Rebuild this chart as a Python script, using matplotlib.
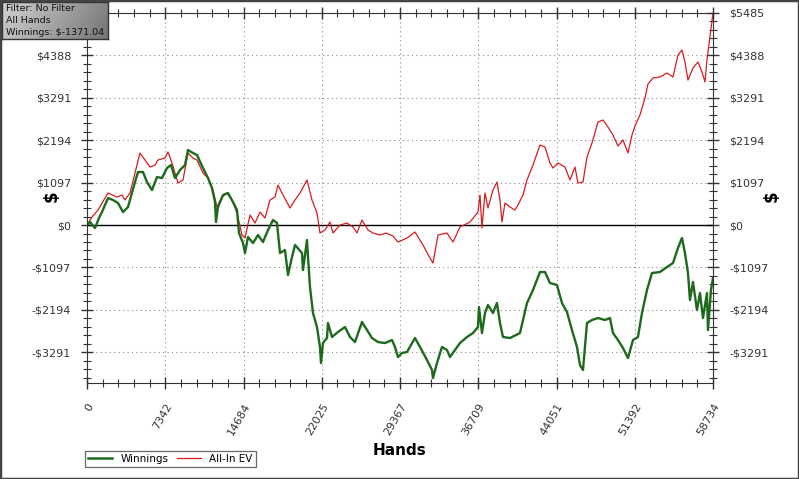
import matplotlib
matplotlib.use("Agg")
import matplotlib.pyplot as plt
import numpy as np
from matplotlib.lines import Line2D
from matplotlib.patches import Rectangle
from matplotlib.ticker import AutoMinorLocator, FixedLocator

# Winnings (dark green)
win_hands = [0, 281, 751, 1126, 1407, 1970, 2439, 2908, 3378, 3847, 4503, 4785, 5254, 5629,
             6098, 6567, 7037, 7506, 7881, 8256, 8725, 9194, 9476, 9945, 10320, 10883, 11352,
             11728, 12009, 12103, 12290, 12760, 13229, 13698, 14073, 14261, 14636, 14824, 15105,
             15574, 16043, 16512, 16981, 17451, 17826, 18107, 18576, 18858, 19233, 19515, 20171,
             20265, 20640, 20734, 20922, 21203, 21579, 21860, 21954, 22142, 22517, 22611, 22986,
             23549, 24206, 24675, 25144, 25801, 26270, 26739, 27302, 27958, 28615, 28897, 29178,
             29553, 30022, 30773, 31242, 31899, 32368, 32462, 32837, 33306, 33775, 34057, 34526,
             34995, 35652, 36215, 36684, 36777, 37059, 37340, 37622, 38091, 38466, 38748, 39029,
             39686, 40624, 41281, 41844, 42500, 42970, 43439, 44095, 44565, 45034, 45503, 45972,
             46253, 46535, 46910, 47379, 47942, 48599, 49068, 49349, 49818, 50288, 50757, 51226,
             51695, 52070, 52539, 53008, 53759, 54416, 54979, 55448, 55823, 56104, 56386, 56574,
             56855, 57230, 57512, 57793, 58168, 58262, 58543, 58734]
win_usd = [0, 78, -78, 181, 336, 698, 647, 569, 336, 466, 1112, 1371, 1371, 1112,
           905, 1242, 1216, 1475, 1552, 1216, 1423, 1552, 1940, 1863, 1811, 1475, 1216,
           957, 595, 78, 466, 776, 828, 595, 388, -207, -466, -724, -310,
           -466, -259, -440, -129, 129, 52, -724, -647, -1294, -828, -517, -724,
           -1164, -388, -828, -1604, -2277, -2639, -3156, -3570, -3053, -2923, -2535, -2897,
           -2768, -2639, -2897, -3027, -2509, -2716, -2923, -3027, -3053, -2975, -3156, -3415,
           -3311, -3285, -2923, -3156, -3492, -3751, -3958, -3570, -3156, -3234, -3415, -3234,
           -3053, -2897, -2794, -2639, -2121, -2794, -2277, -2070, -2277, -2018, -2535, -2897,
           -2923, -2794, -2018, -1682, -1216, -1216, -1500, -1552, -2018, -2251, -2716, -3156,
           -3622, -3751, -2535, -2458, -2406, -2458, -2406, -2794, -2975, -3182, -3441, -2975,
           -2897, -2277, -1682, -1242, -1216, -1087, -983, -595, -336, -724, -1242, -1940,
           -1475, -2199, -1759, -2406, -1759, -2716, -1682, -1371]

# All-In EV (red)
ev_hands = [0, 469, 1032, 1970, 2815, 3284, 3565, 4034, 4503, 4972, 5442, 5911, 6380, 6661,
            7318, 7599, 7975, 8256, 8538, 9007, 9476, 9945, 10320, 10883, 11352, 11821, 12197,
            12666, 13135, 13604, 14073, 14542, 14824, 15293, 15762, 16231, 16700, 17169, 17638,
            17920, 18295, 19045, 19515, 19984, 20640, 21110, 21579, 21860, 22329, 22798, 23080,
            23736, 24393, 24956, 25331, 25801, 26363, 26833, 27489, 28052, 28709, 29178, 30022,
            30773, 31524, 32180, 32462, 32931, 33775, 34338, 34995, 35933, 36684, 36871, 37059,
            37340, 37622, 38091, 38466, 38748, 38935, 39217, 39686, 40155, 40436, 40906, 41281,
            41844, 42500, 42970, 43439, 43720, 44189, 44846, 45315, 45784, 46066, 46535, 46910,
            47379, 47942, 48411, 48880, 49349, 49818, 50288, 50757, 51132, 51413, 51882, 52352,
            52633, 53102, 53759, 54416, 54979, 55448, 55823, 56104, 56386, 56855, 57324, 57699,
            57981, 58168, 58450, 58637, 58734]
ev_usd = [0, 207, 388, 828, 724, 776, 647, 828, 1345, 1863, 1682, 1500, 1552, 1682,
          1733, 1889, 1604, 1345, 1087, 1164, 1863, 1733, 1682, 1345, 1216, 905, 466,
          724, 828, 647, 310, -259, -336, 259, 52, 336, 181, 647, 724,
          1035, 828, 440, 647, 828, 1164, 647, 310, -207, -129, 78, -207,
          0, 52, -52, -207, 129, -129, -207, -259, -207, -285, -440, -336,
          -181, -517, -854, -983, -259, -207, -440, -52, 78, 336, 776, -78,
          828, 440, 905, 1112, 647, 78, 569, 466, 388, 517, 776, 1164,
          1552, 2070, 2018, 1604, 1475, 1604, 1500, 1164, 1500, 1087, 1112, 1759,
          2121, 2665, 2716, 2535, 2328, 2044, 2199, 1863, 2328, 2561, 2846, 3285,
          3648, 3803, 3829, 3932, 3829, 4398, 4527, 4217, 3751, 4062, 4217, 3958,
          3699, 4269, 4864, 5252, 5485]

x_ticks = [0, 7342, 14684, 22025, 29367, 36709, 44051, 51392, 58734]
y_ticks = [-3291, -2194, -1097, 0, 1097, 2194, 3291, 4388, 5485]
y_labels = [f"${v}" if v >= 0 else f"-${-v}" for v in y_ticks]
info_lines = ["Filter: No Filter", "All Hands", "Winnings: $-1371.04"]

green = "#1d6a1d"
red = "#d81c1c"

fig = plt.figure(figsize=(7.99, 4.79), dpi=100)
ax = fig.add_axes([87 / 799, 96 / 479, 626 / 799, 370 / 479])

ax.plot(ev_hands, ev_usd, color=red, lw=0.9)
ax.plot(win_hands, win_usd, color=green, lw=1.7)
ax.axhline(0, color="black", lw=1.0, zorder=1)

ax.set_xlim(0, 58734)
ax.set_ylim(-4087, 5485)
ax.xaxis.set_major_locator(FixedLocator(x_ticks))
ax.yaxis.set_major_locator(FixedLocator(y_ticks))
ax.set_xticklabels([str(t) for t in x_ticks], rotation=60, ha="right", va="top",
                   rotation_mode="anchor")
ax.set_yticklabels(y_labels)
ax.xaxis.set_minor_locator(AutoMinorLocator(5))
ax.yaxis.set_minor_locator(AutoMinorLocator(5))

ax.tick_params(which="both", direction="inout", top=True, right=True, labelright=True,
               color="#333333", labelcolor="#333333", labelsize=8)
ax.tick_params(which="major", length=9, width=1.0, pad=7)
ax.tick_params(which="minor", length=6, width=0.8)
ax.tick_params(axis="x", which="major", pad=9)
for s in ax.spines.values():
    s.set_color("#333333")
# the info box hides the top-left label in the original
ax.yaxis.get_major_ticks()[-1].label1.set_visible(False)

ax.grid(True, which="major", color="#888888", lw=0.8, linestyle=(0, (1, 3)))
ax.set_axisbelow(True)

ax.set_xlabel("Hands", fontsize=11, fontweight="bold", labelpad=4)
# "$" axis titles on both sides
for xpos in (52, 772):
    fig.text(xpos / 799, 1 - 196 / 479, "$", fontsize=12, fontweight="bold", rotation=90,
             ha="center", va="center")

# legend at the bottom left
handles = [Line2D([], [], color=green, lw=1.8), Line2D([], [], color=red, lw=0.9)]
leg = fig.legend(handles, ["Winnings", "All-In EV"], loc="upper left", ncol=2,
                 bbox_to_anchor=(85 / 799, 1 - 451 / 479), fontsize=7.5, frameon=True,
                 fancybox=False, edgecolor="#444444", handlelength=2.3, columnspacing=0.8,
                 borderpad=0.3, handletextpad=0.8, borderaxespad=0)
leg.get_frame().set_linewidth(0.9)

# info box in the top left corner
box = fig.add_axes([2 / 799, 1 - 39 / 479, 106 / 799, 37 / 479])
grad = np.linspace(0.82, 0.52, 200)[None, :] * np.ones((20, 1))
grad = grad - np.linspace(0, 0.06, 20)[:, None]
box.imshow(grad, cmap="gray", vmin=0, vmax=1, aspect="auto", extent=(0, 1, 0, 1))
box.set_xticks([])
box.set_yticks([])
for s in box.spines.values():
    s.set_color("#333333")
    s.set_linewidth(1.0)
for i, line in enumerate(info_lines):
    box.text(0.04, 0.83 - i * 0.33, line, fontsize=6.8, color="#111111", va="center",
             ha="left", transform=box.transAxes)

fig.patches.append(Rectangle((0, 0), 1, 1, transform=fig.transFigure, fill=False,
                             ec="#444444", lw=2.5))

fig.savefig("out.png", dpi=100)
